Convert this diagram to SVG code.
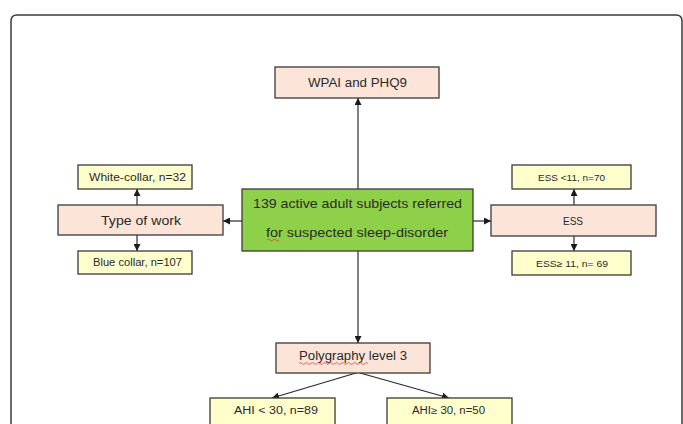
<svg xmlns="http://www.w3.org/2000/svg" width="683" height="424" viewBox="0 0 683 424">
<defs>
<style>
.frame{fill:none;stroke:#3a3a3a;stroke-width:1.5}
.pink{fill:#fce5d8;stroke:#3a3a3a;stroke-width:1.3}
.yel{fill:#ffffcc;stroke:#3a3a3a;stroke-width:1.3}
.grn{fill:#8fd04b;stroke:#3a3a3a;stroke-width:1.3}
text{font-family:"Liberation Sans",Arial,sans-serif;fill:#2a2a2a;text-anchor:middle}
.c{stroke:#2a2a2a;stroke-width:1.2;fill:none;marker-end:url(#ah)}
.sq{stroke:#e03030;stroke-width:0.7;fill:none}
</style>
<marker id="ah" viewBox="0 0 10 10" refX="10" refY="5" markerWidth="7" markerHeight="7" markerUnits="userSpaceOnUse" orient="auto">
<path d="M0,0 L10,5 L0,10 z" fill="#1a1a1a"/>
</marker>
</defs>
<rect width="683" height="424" fill="#ffffff"/>
<path class="frame" d="M11,440 L11,21 Q11,15 17,15 L676,15 Q682,15 682,21 L682,440"/>

<g id="connectors">
<line class="c" x1="358" y1="189" x2="358" y2="98"/>
<line class="c" x1="358" y1="251" x2="358" y2="343"/>
<line class="c" x1="242" y1="221" x2="223" y2="221"/>
<line class="c" x1="473" y1="221" x2="491" y2="221"/>
<line class="c" x1="137" y1="205" x2="137" y2="189"/>
<line class="c" x1="137" y1="235" x2="137" y2="251"/>
<line class="c" x1="574" y1="205" x2="574" y2="189"/>
<line class="c" x1="574" y1="236" x2="574" y2="251"/>
<line class="c" x1="356" y1="373" x2="272" y2="398"/>
<line class="c" x1="360" y1="373" x2="449" y2="398"/>
</g>

<g id="wpai">
<rect class="pink" x="275" y="67" width="164" height="31"/>
<text x="357.5" y="87" font-size="12.5" textLength="99" lengthAdjust="spacingAndGlyphs">WPAI and PHQ9</text>
</g>

<g id="main">
<rect class="grn" x="242" y="189" width="231" height="62"/>
<text x="357.5" y="207.5" font-size="13" textLength="209" lengthAdjust="spacingAndGlyphs">139 active adult subjects referred</text>
<text x="357" y="236.5" font-size="13" textLength="182" lengthAdjust="spacingAndGlyphs">for suspected sleep-disorder</text>
<path class="sq" d="M267,240 q1.5,-2 3,0 t3,0 t3,0 t3,0"/>
</g>

<g id="typework">
<rect class="pink" x="58" y="205" width="165" height="30"/>
<text x="141" y="224.5" font-size="13" textLength="80" lengthAdjust="spacingAndGlyphs">Type of work</text>
</g>

<g id="white">
<rect class="yel" x="78" y="165" width="114" height="24"/>
<text x="137.5" y="180.5" font-size="10" textLength="97" lengthAdjust="spacingAndGlyphs">White-collar, n=32</text>
</g>

<g id="blue">
<rect class="yel" x="78" y="251" width="114" height="23"/>
<text x="137.5" y="266" font-size="10" textLength="89" lengthAdjust="spacingAndGlyphs">Blue collar, n=107</text>
</g>

<g id="ess">
<rect class="pink" x="491" y="205" width="165" height="31"/>
<text x="573" y="225" font-size="11.5" textLength="20" lengthAdjust="spacingAndGlyphs">ESS</text>
</g>

<g id="essLow">
<rect class="yel" x="512" y="165" width="119" height="24"/>
<text x="571.5" y="180.5" font-size="9" textLength="67" lengthAdjust="spacingAndGlyphs">ESS &lt;11, n=70</text>
</g>

<g id="essHigh">
<rect class="yel" x="512" y="251" width="119" height="24"/>
<text x="572" y="266.5" font-size="9" textLength="72" lengthAdjust="spacingAndGlyphs">ESS≥ 11, n= 69</text>
</g>

<g id="poly">
<rect class="pink" x="276" y="343" width="154" height="30"/>
<text x="353" y="360" font-size="12.5" textLength="108" lengthAdjust="spacingAndGlyphs">Polygraphy level 3</text>
<path class="sq" d="M299,363.5 q1.5,-2 3,0 t3,0 t3,0 t3,0 t3,0 t3,0 t3,0 t3,0 t3,0 t3,0 t3,0 t3,0 t3,0 t3,0 t3,0 t3,0 t3,0 t3,0 t3,0 t3,0 t3,0 t3,0 t3,0"/>
</g>

<g id="ahiLow">
<rect class="yel" x="210" y="398" width="125" height="30"/>
<text x="276" y="413.5" font-size="10" textLength="84" lengthAdjust="spacingAndGlyphs">AHI &lt; 30, n=89</text>
</g>

<g id="ahiHigh">
<rect class="yel" x="387" y="398" width="125" height="30"/>
<text x="448.5" y="413.5" font-size="10" textLength="73" lengthAdjust="spacingAndGlyphs">AHI≥ 30, n=50</text>
</g>
</svg>
